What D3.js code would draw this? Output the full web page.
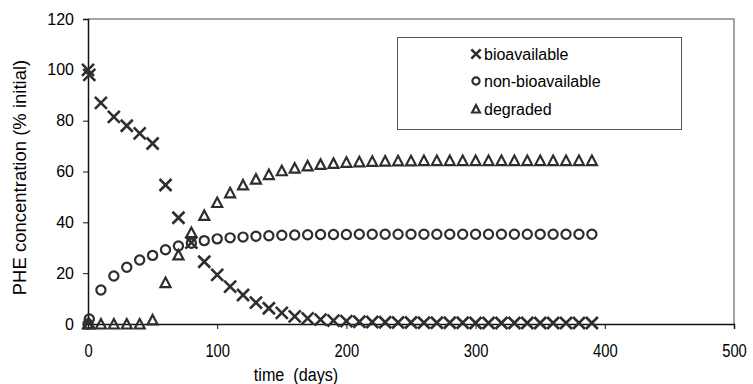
<!DOCTYPE html>
<html>
<head>
<meta charset="utf-8">
<script src="https://cdn.jsdelivr.net/npm/d3@7"></script>
<style>
  body { margin: 0; background: #fff; }
  svg { display: block; font-family: "Liberation Sans", Arial, sans-serif; }
</style>
</head>
<body>
<script>
// data
const days = [0, 1, 10, 20, 30, 40, 50, 60, 70, 80, 90, 100, 110, 120, 130, 140, 150, 160, 170, 180,
    190, 200, 210, 220, 230, 240, 250, 260, 270, 280, 290, 300, 310, 320, 330, 340, 350, 360, 370, 380, 390]
const bioavailable = [100, 98, 87, 81.5, 78, 75, 71, 54.7, 41.8, 32, 24.5, 19.3, 14.7, 11.4, 8.4, 6.2, 4.4, 3.0, 2.2, 1.7,
    1.3, 1.1, 0.9, 0.8, 0.7, 0.6, 0.6, 0.5, 0.5, 0.5, 0.5, 0.4, 0.4, 0.4, 0.4, 0.4, 0.4, 0.4, 0.4, 0.4, 0.4]
const nonBioavailable = [0, 2, 13.4, 18.9, 22.3, 25.2, 27, 29.2, 30.7, 31.8, 32.8, 33.5, 33.9, 34.2, 34.5, 34.7, 34.9, 35, 35.1, 35.2,
    35.2, 35.2, 35.3, 35.3, 35.3, 35.3, 35.3, 35.3, 35.3, 35.3, 35.3, 35.3, 35.3, 35.3, 35.3, 35.3, 35.3, 35.3, 35.3, 35.3, 35.3]
const degraded = [0, 0, 0, 0, 0, 0, 1.6, 16.3, 27.2, 36, 42.7, 47.8, 51.6, 54.7, 57, 58.8, 60.3, 61.3, 62.2, 62.8,
    63.2, 63.6, 63.8, 64, 64.1, 64.2, 64.2, 64.3, 64.3, 64.3, 64.3, 64.3, 64.3, 64.3, 64.3, 64.3, 64.3, 64.3, 64.3, 64.3, 64.3]
const xTicks = [0, 100, 200, 300, 400, 500]
const yTicks = [0, 20, 40, 60, 80, 100, 120]
const seriesNames = ['bioavailable', 'non-bioavailable', 'degraded']

const W = 753, H = 384
const ink = '#2e2e2e'

const x = d3.scaleLinear().domain([0, 500]).range([88, 734])
const y = d3.scaleLinear().domain([0, 120]).range([324, 19])

const svg = d3.select('body').append('svg')
    .attr('width', W)
    .attr('height', H)

// plot frame (top and right in grey)
svg.append('path')
    .attr('d', `M${x(0)},${y(120)}H${x(500)}V${y(0)}`)
    .attr('fill', 'none')
    .attr('stroke', '#888')
    .attr('stroke-width', 1.5)

// axes
const yAxis = svg.append('g')
    .attr('transform', 'translate(' + x(0) + ',0)')
    .call(d3.axisLeft(y).tickValues(yTicks).tickSize(5).tickPadding(9))
yAxis.selectAll('text').style('font-size', '16px').attr('fill', '#000')

// x labels are horizontally squeezed in the original
const xAxis = svg.append('g')
    .attr('transform', 'translate(0,' + y(0) + ')')
    .call(d3.axisBottom(x).tickValues(xTicks).tickSize(5).tickPadding(15))
xAxis.selectAll('text')
    .style('font-size', '18px')
    .attr('transform', 'scale(0.82,1)')
    .attr('fill', '#000')

svg.selectAll('.domain').attr('stroke', '#111').attr('stroke-width', 1.5)
svg.selectAll('.tick line').attr('stroke', '#111')

// axis titles
svg.append('text')
    .attr('transform', 'translate(296,381) scale(0.85,1)')
    .attr('text-anchor', 'middle')
    .attr('xml:space', 'preserve')
    .style('font-size', '19px')
    .text('time  (days)')

svg.append('text')
    .attr('transform', 'translate(26,' + (y(60) + 6) + ') rotate(-90)')
    .attr('text-anchor', 'middle')
    .style('font-size', '18.5px')
    .text('PHE concentration (% initial)')

// marker shapes
function drawMarker(g, kind, s) {
    if (kind === 0) {
        g.append('path').attr('d', `M${-6 * s},${-6 * s}L${6 * s},${6 * s}M${-6 * s},${6 * s}L${6 * s},${-6 * s}`)
            .attr('stroke', ink).attr('stroke-width', 2.6).attr('fill', 'none')
    } else if (kind === 1) {
        g.append('circle').attr('r', 4.6 * s)
            .attr('stroke', ink).attr('stroke-width', 2.2).attr('fill', 'none')
    } else {
        g.append('path').attr('d', `M0,${-5 * s}L${5 * s},${4.5 * s}L${-5 * s},${4.5 * s}Z`)
            .attr('stroke', ink).attr('stroke-width', 2.2).attr('fill', 'none')
    }
}

const allSeries = [bioavailable, nonBioavailable, degraded]
const plot = svg.append('g')
// draw in reverse so crosses sit on top
;[2, 1, 0].forEach(k => {
    plot.selectAll('.m' + k)
        .data(days.map((d, i) => ({ day: d, value: allSeries[k][i] })))
        .enter().append('g')
        .attr('class', 'm' + k)
        .attr('transform', d => 'translate(' + x(d.day) + ',' + y(d.value) + ')')
        .each(function() { drawMarker(d3.select(this), k, 1) })
})

// legend
const legend = svg.append('g')
legend.append('rect')
    .attr('x', 397.5).attr('y', 37.5)
    .attr('width', 284).attr('height', 92)
    .attr('fill', '#fff')
    .attr('stroke', '#555')
    .attr('stroke-width', 1)

const rowY = [54, 81, 109]
seriesNames.forEach((name, k) => {
    const g = legend.append('g').attr('transform', 'translate(476,' + rowY[k] + ')')
    drawMarker(g, k, 0.78)
    legend.append('text')
        .attr('x', 484)
        .attr('y', rowY[k] + 6)
        .style('font-size', '16px')
        .text(name)
})
</script>
</body>
</html>
